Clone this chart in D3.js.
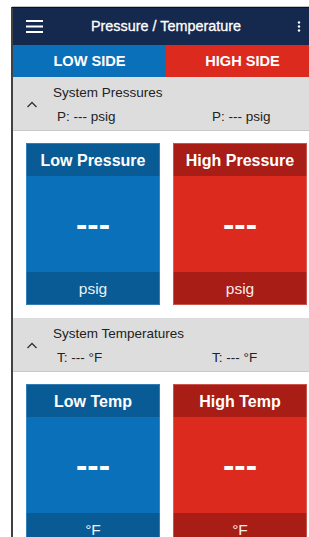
<!DOCTYPE html>
<html>
<head>
<meta charset="utf-8">
<script src="https://cdn.jsdelivr.net/npm/d3@7.9.0/dist/d3.min.js"></script>
<style>
  html, body { margin: 0; padding: 0; background: #fff; overflow: hidden; }
  svg { display: block; font-family: "Liberation Sans", Arial, sans-serif; }
</style>
</head>
<body>
<svg id="screen" width="309" height="537"></svg>
<script>
// data
const appTitle = "Pressure / Temperature";
const tabs = ["LOW SIDE", "HIGH SIDE"];
const sections = ["System Pressures", "System Temperatures"];
const sectionReadings = [["P: --- psig", "P: --- psig"], ["T: --- °F", "T: --- °F"]];
const cardTitles = [["Low Pressure", "High Pressure"], ["Low Temp", "High Temp"]];
const cardValues = [["---", "---"], ["---", "---"]];
const cardUnits = [["psig", "psig"], ["°F", "°F"]];

const sides = ["low", "high"];
const theme = {
  low: { main: "#0b70ba", dark: "#095b95", edge: "#5b9fd3" },
  high: { main: "#dc2a1f", dark: "#a81d15", edge: "#ec8a83" }
};

const svg = d3.select("#screen");
const left = 13, right = 319; // phone screen is a bit wider than the shot

// phone frame
svg.append("line").attr("x1", 12).attr("x2", 12).attr("y1", 7).attr("y2", 537)
  .attr("stroke", "#111").attr("stroke-width", 1.6);
svg.append("line").attr("x1", 12).attr("x2", 309).attr("y1", 7.3).attr("y2", 7.3)
  .attr("stroke", "#111").attr("stroke-width", 1.2);

// app bar
svg.append("rect").attr("x", left).attr("y", 8).attr("width", right - left).attr("height", 37)
  .attr("fill", "#15294f");
svg.append("text").attr("x", (left + right) / 2).attr("y", 31).attr("text-anchor", "middle")
  .attr("fill", "#fff").attr("font-size", 14.4).attr("stroke", "#fff").attr("stroke-width", 0.3)
  .text(appTitle);
[21, 26.5, 32].forEach(y => {
  svg.append("rect").attr("x", 26).attr("y", y - 1).attr("width", 17).attr("height", 2)
    .attr("fill", "#fff");
});
[22.5, 26.5, 30.5].forEach(y => {
  svg.append("circle").attr("cx", 299).attr("cy", y).attr("r", 1.2).attr("fill", "#fff");
});

// tabs
const xTab = d3.scaleBand().domain(tabs).range([left, right]);
const tabG = svg.selectAll("g.tab").data(tabs).join("g").attr("class", "tab");
tabG.append("rect").attr("x", d => xTab(d)).attr("y", 45)
  .attr("width", xTab.bandwidth()).attr("height", 32)
  .attr("fill", (d, i) => theme[sides[i]].main);
tabG.append("text").attr("x", d => xTab(d) + xTab.bandwidth() / 2).attr("y", 66)
  .attr("text-anchor", "middle").attr("fill", "#fff").attr("font-size", 14.6)
  .attr("font-weight", "bold").text(d => d);

// sections + cards
const xCard = d3.scaleBand().domain(sides).range([26, 307]).paddingInner(0.0884);
const sectionTop = [77, 318];
const cardTop = [143, 384];

sections.forEach((name, s) => {
  const top = sectionTop[s];
  svg.append("rect").attr("x", left).attr("y", top).attr("width", right - left).attr("height", 53)
    .attr("fill", "#dddddd");
  svg.append("line").attr("x1", left).attr("x2", right).attr("y1", top + 53.5).attr("y2", top + 53.5)
    .attr("stroke", "#c9c9c9");
  svg.append("path").attr("d", `M27.5,${top + 30}L32,${top + 25.5}L36.5,${top + 30}`)
    .attr("fill", "none").attr("stroke", "#333").attr("stroke-width", 1.3);
  svg.append("text").attr("x", 53).attr("y", top + 20).attr("font-size", 13.5)
    .attr("fill", "#222").text(name);
  svg.selectAll(null).data(sectionReadings[s]).join("text")
    .attr("x", (d, i) => [57, 212][i]).attr("y", top + 44).attr("font-size", 13.5)
    .attr("fill", "#222").text(d => d);

  const y0 = cardTop[s];
  const card = svg.selectAll(null).data(sides).join("g");
  const w = xCard.bandwidth();
  card.append("rect").attr("x", d => xCard(d)).attr("y", y0).attr("width", w).attr("height", 162)
    .attr("fill", d => theme[d].main);
  card.append("rect").attr("x", d => xCard(d)).attr("y", y0).attr("width", w).attr("height", 33)
    .attr("fill", d => theme[d].dark);
  card.append("rect").attr("x", d => xCard(d)).attr("y", y0 + 129).attr("width", w).attr("height", 33)
    .attr("fill", d => theme[d].dark);
  card.append("rect").attr("x", d => xCard(d) + 0.5).attr("y", y0 + 0.5).attr("width", w - 1).attr("height", 161)
    .attr("fill", "none").attr("stroke", d => theme[d].edge).attr("stroke-width", 1).attr("opacity", 0.5);
  card.append("text").attr("x", d => xCard(d) + w / 2).attr("y", y0 + 22.5)
    .attr("text-anchor", "middle").attr("fill", "#fff").attr("font-size", 16).attr("font-weight", "bold")
    .text((d, i) => cardTitles[s][i]);
  card.append("text").attr("x", d => xCard(d) + w / 2).attr("y", y0 + 93)
    .attr("text-anchor", "middle").attr("fill", "#fff").attr("font-size", 34).attr("font-weight", "bold")
    .text((d, i) => cardValues[s][i]);
  card.append("text").attr("x", d => xCard(d) + w / 2).attr("y", y0 + 151)
    .attr("text-anchor", "middle").attr("fill", "#fff").attr("font-size", 15.5).attr("opacity", 0.92)
    .text((d, i) => cardUnits[s][i]);
});
</script>
</body>
</html>
